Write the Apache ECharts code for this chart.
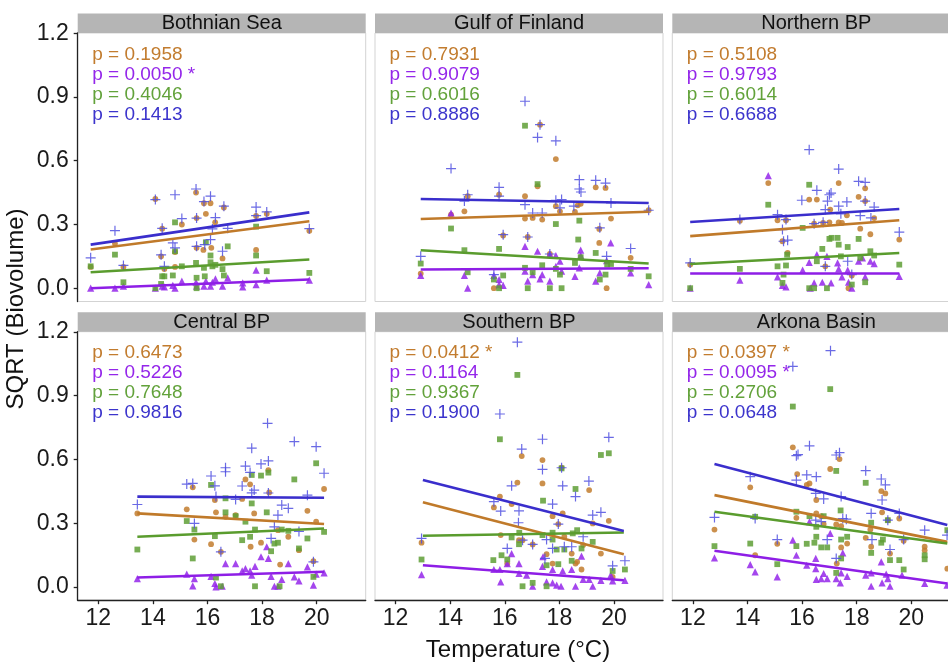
<!DOCTYPE html>
<html>
<head>
<meta charset="utf-8">
<script src="https://cdn.jsdelivr.net/npm/echarts@6/dist/echarts.min.js"></script>
<style>
html,body{margin:0;padding:0;background:#fff;}
#chart{width:948px;height:664px;}
</style>
</head>
<body>
<div id="chart"></div>
<script>
// ---------------- DATA ----------------
const panelNames = ['Bothnian Sea', 'Gulf of Finland', 'Northern BP', 'Central BP', 'Southern BP', 'Arkona Basin'];
const seriesNames = ['Series A', 'Series B', 'Series C', 'Series D'];
const xTicks = [12, 14, 16, 18, 20];
const yTicks = [0, 0.3, 0.6, 0.9, 1.2];

const pValues = [
  ['p = 0.1958', 'p = 0.0050 *', 'p = 0.4046', 'p = 0.1413'],
  ['p = 0.7931', 'p = 0.9079', 'p = 0.6016', 'p = 0.8886'],
  ['p = 0.5108', 'p = 0.9793', 'p = 0.6014', 'p = 0.6688'],
  ['p = 0.6473', 'p = 0.5226', 'p = 0.7648', 'p = 0.9816'],
  ['p = 0.0412 *', 'p = 0.1164', 'p = 0.9367', 'p = 0.1900'],
  ['p = 0.0397 *', 'p = 0.0095 *', 'p = 0.2706', 'p = 0.0648']
];

// Bothnian Sea
const bothnianOrange = [[11.72,0.10],[12.61,0.21],[12.92,0.10],[14.09,0.42],[14.34,0.28],[14.30,0.15],[14.42,0.09],[14.81,0.17],[14.81,0.10],[15.06,0.30],[15.58,0.45],[15.60,0.33],[15.60,0.19],[15.94,0.35],[16.11,0.40],[15.85,0.18],[16.14,0.19],[15.87,0.40],[16.28,0.31],[16.60,0.38],[16.55,0.14],[17.78,0.18],[17.78,0.34],[18.17,0.35],[19.73,0.27]];
const bothnianPurple = [[11.72,0.0],[12.61,0.0],[12.92,0.01],[14.09,0.0],[14.34,0.01],[14.42,0.006],[14.73,0.013],[14.81,0.0],[15.06,0.033],[15.58,0.028],[15.60,0.01],[15.87,0.01],[15.94,0.033],[16.11,0.01],[16.18,0.028],[16.29,0.044],[16.55,0.01],[16.74,0.049],[17.29,0.006],[17.29,0.025],[17.78,0.085],[17.78,0.017],[18.17,0.038],[19.73,0.038]];
const bothnianGreen = [[11.72,0.103],[12.61,0.158],[12.92,0.028],[14.09,0.0],[14.34,0.056],[14.30,0.02],[14.42,0.056],[14.81,0.31],[14.73,0.06],[14.81,0.174],[15.06,0.103],[15.58,0.119],[15.60,0.049],[15.60,0.0],[15.87,0.096],[15.90,0.056],[15.94,0.216],[16.11,0.154],[16.11,0.122],[16.18,0.103],[16.29,0.11],[16.55,0.09],[16.60,0.06],[16.74,0.197],[17.78,0.29],[17.78,0.154],[18.17,0.08],[19.73,0.072]];
const bothnianBlue = [[11.72,0.143],[12.61,0.271],[12.92,0.107],[14.09,0.417],[14.34,0.282],[14.30,0.157],[14.42,0.103],[14.81,0.44],[14.73,0.213],[14.81,0.19],[15.06,0.328],[15.58,0.467],[15.60,0.33],[15.60,0.197],[15.87,0.408],[16.11,0.433],[15.90,0.205],[16.11,0.229],[16.18,0.279],[16.29,0.332],[16.60,0.386],[16.74,0.282],[16.55,0.174],[17.78,0.382],[17.78,0.342],[18.17,0.359],[19.73,0.28]];
// fitted lines: [x range], then orange, purple, green, blue end values
const bothnianFit = [[11.72, 19.73], [0.182, 0.315], [0.0, 0.041], [0.075, 0.135], [0.205, 0.357]];

// Gulf of Finland
const gulfOrange = [[12.92,0.069],[14.03,0.346],[14.52,0.362],[14.64,0.433],[15.60,0.0],[15.79,0.44],[15.94,0.248],[16.74,0.433],[16.74,0.328],[16.84,0.241],[17.02,0.331],[17.20,0.48],[17.29,0.77],[17.37,0.323],[17.65,0.161],[17.87,0.608],[17.87,0.386],[18.02,0.362],[18.57,0.359],[18.67,0.39],[18.78,0.397],[19.33,0.475],[19.69,0.472],[19.46,0.279],[19.46,0.213],[19.73,0.0],[19.89,0.328],[20.61,0.143],[21.27,0.367]];
const gulfPurple = [[12.92,0.06],[14.03,0.354],[14.52,0.06],[14.64,0.0],[15.60,0.06],[15.79,0.041],[15.79,0.017],[15.94,0.013],[16.74,0.197],[16.74,0.08],[16.84,0.033],[17.02,0.064],[17.20,0.174],[17.29,0.044],[17.37,0.064],[17.65,0.033],[17.65,0.161],[17.87,0.154],[17.87,0.103],[18.02,0.127],[18.08,0.08],[18.57,0.056],[18.73,0.096],[18.78,0.179],[18.78,0.154],[19.33,0.033],[19.48,0.072],[19.88,0.213],[19.73,0.13],[20.61,0.072],[21.27,0.017]];
const gulfGreen = [[12.92,0.116],[14.03,0.281],[14.52,0.179],[14.64,0.075],[15.60,0.041],[15.79,0.185],[15.79,0.0],[15.94,0.06],[16.74,0.765],[16.74,0.096],[16.84,0.0],[17.02,0.075],[17.20,0.49],[17.37,0.108],[17.65,0.0],[17.87,0.302],[17.87,0.091],[18.02,0.064],[18.08,0.0],[18.57,0.119],[18.73,0.318],[18.69,0.229],[18.78,0.146],[19.33,0.166],[19.48,0.041],[19.69,0.064],[19.75,0.111],[19.89,0.114],[20.61,0.091],[21.27,0.056]];
const gulfBlue = [[12.92,0.15],[14.03,0.563],[14.52,0.41],[14.64,0.44],[15.60,0.064],[15.79,0.475],[15.79,0.433],[15.94,0.252],[16.74,0.88],[16.74,0.393],[16.84,0.241],[17.02,0.354],[17.20,0.71],[17.29,0.77],[17.37,0.354],[17.65,0.161],[17.87,0.694],[17.87,0.414],[18.08,0.417],[18.02,0.378],[18.53,0.386],[18.73,0.511],[18.73,0.467],[18.79,0.453],[19.33,0.508],[19.69,0.495],[19.48,0.284],[19.73,0.15],[19.89,0.401],[20.61,0.187],[21.27,0.367]];
const gulfFit = [[12.92, 21.27], [0.326, 0.36], [0.088, 0.094], [0.179, 0.116], [0.42, 0.401]];

// Northern BP
const northOrange = [[11.90,0.111],[13.72,0.318],[14.76,0.495],[15.10,0.32],[15.41,0.32],[15.28,0.221],[15.47,0.166],[16.26,0.417],[16.54,0.417],[16.44,0.304],[16.77,0.307],[17.03,0.37],[16.85,0.103],[17.00,0.31],[17.34,0.495],[17.34,0.31],[17.46,0.307],[17.64,0.343],[17.70,0.0],[17.82,0.06],[18.07,0.43],[18.13,0.28],[18.31,0.47],[18.31,0.41],[18.50,0.254],[18.64,0.33],[19.56,0.229]];
const northPurple = [[11.90,0.0],[13.72,0.038],[14.76,0.53],[15.10,0.053],[15.28,0.013],[15.41,0.006],[16.02,0.085],[16.26,0.122],[16.30,0.0],[16.44,0.025],[16.54,0.158],[16.74,0.028],[16.91,0.15],[17.06,0.025],[17.30,0.119],[17.34,0.091],[17.46,0.053],[17.67,0.085],[17.70,0.028],[17.82,0.0],[18.07,0.127],[18.21,0.143],[18.31,0.053],[18.50,0.127],[18.64,0.116],[19.56,0.056]];
const northGreen = [[11.90,0.0],[13.72,0.091],[14.76,0.393],[15.10,0.103],[15.32,0.064],[15.28,0.025],[15.45,0.158],[15.41,0.107],[16.02,0.284],[16.26,0.487],[16.26,0.0],[16.44,0.0],[16.54,0.127],[16.74,0.185],[16.91,0.0],[17.00,0.232],[17.08,0.237],[17.30,0.237],[17.34,0.205],[17.42,0.15],[17.67,0.194],[17.82,0.017],[18.07,0.232],[18.13,0.143],[18.31,0.028],[18.50,0.174],[18.64,0.154],[19.56,0.111]];
const northBlue = [[11.90,0.119],[13.72,0.323],[15.10,0.346],[15.28,0.276],[15.32,0.221],[15.47,0.226],[15.41,0.323],[15.99,0.414],[16.26,0.652],[16.54,0.461],[16.44,0.304],[16.77,0.31],[16.85,0.37],[16.93,0.41],[17.00,0.44],[17.06,0.448],[17.34,0.561],[17.34,0.386],[17.42,0.35],[17.64,0.406],[16.85,0.103],[17.67,0.127],[17.82,0.064],[18.07,0.503],[18.31,0.498],[18.31,0.41],[18.13,0.342],[18.52,0.331],[18.64,0.382],[19.56,0.264]];
const northFit = [[11.90, 19.56], [0.245, 0.32], [0.069, 0.069], [0.114, 0.166], [0.312, 0.373]];

// Central BP
const centralOrange = [[13.43,0.346],[15.24,0.365],[15.46,0.469],[15.52,0.223],[16.13,0.201],[16.27,0.409],[16.31,0.351],[16.49,0.165],[16.66,0.33],[17.03,0.338],[17.27,0.414],[17.39,0.506],[17.56,0.483],[17.58,0.189],[17.71,0.346],[17.96,0.208],[18.23,0.55],[18.26,0.445],[18.58,0.267],[18.66,0.105],[18.96,0.236],[19.35,0.173],[19.66,0.358],[19.88,0.121],[19.98,0.307],[20.27,0.461]];
const centralPurple = [[13.43,0.039],[15.24,0.06],[15.46,0.005],[15.52,0.039],[16.13,0.05],[16.27,0.016],[16.31,0.0],[16.54,0.003],[16.66,0.11],[17.03,0.11],[17.27,0.075],[17.39,0.086],[17.56,0.075],[17.62,0.055],[17.74,0.097],[17.96,0.142],[18.17,0.189],[18.23,0.134],[18.33,0.05],[18.45,0.003],[18.58,0.003],[18.72,0.035],[18.96,0.11],[19.18,0.047],[19.35,0.028],[19.66,0.094],[19.88,0.008],[19.98,0.06],[20.27,0.066]];
const centralGreen = [[13.43,0.176],[15.24,0.31],[15.46,0.134],[15.52,0.27],[16.13,0.48],[16.27,0.239],[16.31,0.044],[16.49,0.003],[16.66,0.417],[16.66,0.351],[17.03,0.333],[17.27,0.22],[17.39,0.307],[17.56,0.236],[17.62,0.527],[17.62,0.393],[17.74,0.27],[17.74,0.003],[17.96,0.524],[18.23,0.538],[18.17,0.351],[18.33,0.168],[18.45,0.204],[18.58,0.208],[18.64,0.003],[18.72,0.27],[18.96,0.264],[19.18,0.506],[19.35,0.181],[19.66,0.228],[19.88,0.047],[19.98,0.582],[20.27,0.259]];
const centralBlue = [[13.43,0.388],[15.24,0.484],[15.46,0.487],[15.52,0.299],[16.13,0.522],[16.27,0.476],[16.31,0.425],[16.66,0.561],[16.66,0.542],[16.49,0.165],[17.03,0.412],[17.27,0.475],[17.39,0.569],[17.56,0.539],[17.62,0.653],[17.62,0.443],[17.71,0.456],[17.96,0.579],[18.23,0.593],[18.20,0.77],[18.23,0.442],[18.33,0.228],[18.45,0.283],[18.58,0.338],[18.72,0.385],[18.96,0.37],[19.18,0.684],[19.35,0.261],[19.66,0.432],[19.88,0.118],[19.98,0.66],[20.27,0.535]];
const centralFit = [[13.43, 20.27], [0.346, 0.296], [0.044, 0.071], [0.236, 0.275], [0.425, 0.42]];

// Southern BP
const southOrange = [[12.95,0.208],[15.82,0.425],[15.60,0.374],[15.85,0.244],[16.09,0.11],[16.25,0.39],[16.46,0.491],[16.52,0.22],[16.62,0.616],[16.65,0.22],[17.02,0.2],[17.38,0.597],[17.38,0.487],[17.53,0.154],[17.75,0.11],[17.75,0.333],[17.96,0.296],[18.08,0.561],[18.12,0.346],[18.18,0.236],[18.45,0.157],[18.59,0.11],[18.65,0.118],[18.81,0.082],[18.87,0.197],[19.09,0.456],[19.22,0.299],[19.52,0.157],[19.81,0.311],[19.95,0.047]];
const southPurple = [[12.95,0.058],[15.60,0.082],[15.85,0.024],[15.82,0.082],[16.09,0.11],[16.25,0.157],[16.52,0.11],[16.52,0.063],[16.80,0.055],[17.02,0.003],[17.38,0.097],[17.40,0.142],[17.53,0.024],[17.75,0.082],[17.75,0.019],[17.90,0.008],[18.06,0.003],[18.12,0.075],[18.45,0.082],[18.59,0.003],[18.81,0.145],[18.87,0.035],[19.09,0.035],[19.22,0.003],[19.52,0.031],[19.88,0.055],[19.95,0.028],[20.40,0.031]];
const southGreen = [[12.95,0.129],[15.58,0.126],[15.82,0.695],[15.88,0.149],[16.09,0.129],[16.25,0.233],[16.52,0.201],[16.53,0.255],[16.46,0.998],[16.65,0.003],[17.02,0.019],[17.38,0.244],[17.40,0.406],[17.53,0.003],[17.53,0.102],[17.75,0.223],[17.75,0.255],[17.96,0.107],[17.90,0.176],[18.08,0.558],[18.18,0.176],[18.45,0.123],[18.49,0.252],[18.59,0.461],[18.65,0.267],[18.81,0.181],[19.22,0.212],[19.52,0.621],[19.81,0.629],[19.95,0.075],[20.40,0.082]];
const southBlue = [[12.95,0.228],[16.46,1.152],[15.82,0.814],[15.60,0.401],[15.85,0.357],[16.09,0.181],[16.25,0.476],[16.52,0.358],[16.50,0.302],[16.62,0.649],[16.65,0.22],[17.02,0.2],[17.38,0.695],[17.38,0.553],[17.53,0.223],[17.47,0.134],[17.75,0.39],[17.75,0.181],[17.96,0.296],[18.08,0.561],[18.12,0.476],[18.18,0.189],[18.45,0.189],[18.59,0.425],[18.87,0.236],[19.08,0.498],[19.22,0.338],[19.52,0.351],[19.81,0.704],[19.95,0.099],[20.40,0.123]];
const southFit = [[13.0, 20.36], [0.398, 0.154], [0.102, 0.031], [0.241, 0.256], [0.503, 0.263]];

// Arkona Basin
const arkonaOrange = [[12.79,0.27],[14.10,0.469],[14.28,0.149],[15.09,0.203],[15.66,0.657],[15.79,0.325],[15.82,0.531],[16.17,0.48],[16.27,0.487],[16.52,0.409],[16.52,0.346],[16.70,0.333],[16.79,0.296],[17.03,0.555],[17.25,0.294],[17.37,0.602],[17.27,0.11],[17.43,0.286],[17.43,0.186],[17.65,0.204],[18.33,0.231],[18.53,0.189],[18.50,0.27],[18.90,0.451],[19.05,0.44],[18.93,0.351],[19.14,0.314],[19.22,0.157],[19.56,0.322],[19.72,0.217],[20.49,0.189],[20.49,0.172],[21.32,0.086]];
const arkonaPurple = [[12.79,0.137],[14.10,0.105],[14.28,0.071],[15.09,0.047],[15.66,0.22],[15.79,0.149],[16.17,0.102],[16.27,0.307],[16.50,0.134],[16.50,0.086],[16.52,0.035],[16.70,0.039],[16.79,0.063],[16.92,0.039],[17.03,0.252],[17.25,0.039],[17.40,0.019],[17.43,0.066],[17.49,0.16],[17.65,0.05],[18.33,0.055],[18.53,0.003],[18.53,0.066],[18.90,0.118],[18.93,0.019],[19.08,0.06],[19.22,0.003],[19.14,0.039],[19.66,0.055],[20.49,0.016],[21.31,0.008]];
const arkonaGreen = [[12.79,0.192],[14.10,0.204],[14.28,0.33],[15.09,0.107],[15.66,0.849],[15.79,0.354],[15.79,0.192],[16.17,0.203],[16.27,0.333],[16.45,0.208],[16.52,0.283],[16.52,0.236],[16.70,0.186],[16.79,0.333],[16.92,0.186],[17.03,0.931],[17.25,0.546],[17.25,0.066],[17.41,0.36],[17.43,0.223],[17.43,0.134],[17.65,0.236],[18.33,0.49],[18.53,0.302],[18.53,0.16],[18.90,0.208],[18.96,0.223],[19.14,0.314],[19.22,0.126],[19.56,0.126],[19.72,0.082],[20.49,0.149],[20.49,0.13],[21.32,0.267]];
const arkonaBlue = [[12.79,0.327],[14.10,0.519],[14.28,0.322],[15.09,0.223],[15.66,1.038],[15.79,0.618],[15.79,0.503],[15.85,0.623],[16.17,0.527],[16.27,0.664],[16.52,0.519],[16.50,0.44],[16.50,0.314],[16.79,0.414],[16.70,0.307],[16.92,0.223],[17.04,1.112],[17.25,0.621],[17.37,0.632],[17.43,0.425],[17.49,0.322],[17.62,0.319],[17.25,0.134],[18.33,0.547],[18.53,0.346],[18.56,0.223],[18.90,0.508],[19.05,0.48],[18.93,0.409],[19.14,0.314],[19.22,0.176],[19.56,0.346],[19.72,0.223],[20.49,0.267],[21.31,0.244]];
const arkonaFit = [[12.79, 21.32], [0.432, 0.212], [0.17, 0.016], [0.354, 0.204], [0.579, 0.291]];

const panelPoints = [
  [bothnianOrange, bothnianPurple, bothnianGreen, bothnianBlue],
  [gulfOrange, gulfPurple, gulfGreen, gulfBlue],
  [northOrange, northPurple, northGreen, northBlue],
  [centralOrange, centralPurple, centralGreen, centralBlue],
  [southOrange, southPurple, southGreen, southBlue],
  [arkonaOrange, arkonaPurple, arkonaGreen, arkonaBlue]
];
const panelFits = [bothnianFit, gulfFit, northFit, centralFit, southFit, arkonaFit];

// ---------------- STYLE / LAYOUT ----------------
const FONT = '"Liberation Sans", Arial, Helvetica, sans-serif';
const pointColors = ['#c27c2e', '#9426ea', '#5f9f36', '#5050e0'];
const lineColors = ['#c07a2a', '#8e1ee6', '#5a9c2e', '#3a2ecc'];
const textColors = ['#c27c2e', '#9426ea', '#62a23a', '#3c34cc'];
const PLUS = 'path://M4.4,0h1.2v4.4h4.4v1.2h-4.4v4.4h-1.2v-4.4h-4.4v-1.2h4.4z';
const symbols = ['circle', 'triangle', 'rect', PLUS];
const symbolSizes = [5.8, 7.2, 5.8, 10];

const colLeft = [77.7, 375, 672.3];
const rowTop = [33, 331.7];
const panelW = 288, panelH = 268.5, stripH = 19.5;
const X_MIN = 11.245, X_MAX = 21.795, Y_MIN = -0.0626, Y_MAX = 1.2014;

const grids = [], xAxes = [], yAxes = [], series = [], graphics = [];

for (let i = 0; i < 6; i++) {
  const r = Math.floor(i / 3), c = i % 3;
  const left = colLeft[c], top = rowTop[r];
  grids.push({left: left, top: top, width: panelW, height: panelH, show: true,
    borderColor: '#d3d3d3', borderWidth: 1, backgroundColor: '#fff',
    containLabel: false, outerBoundsMode: 'none'});
  const showX = r === 1, showY = c === 0;
  xAxes.push({type: 'value', gridIndex: i, min: X_MIN, max: X_MAX,
    splitLine: {show: false},
    axisLine: {show: showX, onZero: false, lineStyle: {color: '#222', width: 1.3}},
    axisTick: {show: showX, length: 4, customValues: xTicks, lineStyle: {color: '#222', width: 1.3}},
    axisLabel: {show: showX, customValues: xTicks, margin: 7, fontSize: 23, fontFamily: FONT, color: '#1a1a1a',
      formatter: v => String(Math.round(v))}
  });
  yAxes.push({type: 'value', gridIndex: i, min: Y_MIN, max: Y_MAX,
    splitLine: {show: false},
    axisLine: {show: showY, onZero: false, lineStyle: {color: '#222', width: 1.3}},
    axisTick: {show: showY, length: 4, customValues: yTicks, lineStyle: {color: '#222', width: 1.3}},
    axisLabel: {show: showY, customValues: yTicks, margin: 9, fontSize: 23, fontFamily: FONT, color: '#1a1a1a',
      formatter: v => v.toFixed(1)}
  });
  // points
  for (let s = 0; s < 4; s++) {
    series.push({type: 'scatter', name: seriesNames[s], xAxisIndex: i, yAxisIndex: i,
      data: panelPoints[i][s], symbol: symbols[s], symbolSize: symbolSizes[s],
      itemStyle: {color: pointColors[s], opacity: 0.85}, z: 2 + s, silent: true, animation: false});
  }
  // fitted lines
  const fit = panelFits[i];
  for (let s = 0; s < 4; s++) {
    series.push({type: 'line', name: seriesNames[s] + ' fit', xAxisIndex: i, yAxisIndex: i,
      data: [[fit[0][0], fit[s + 1][0]], [fit[0][1], fit[s + 1][1]]],
      showSymbol: false, symbol: 'none',
      lineStyle: {color: lineColors[s], width: 2.6}, z: 10, silent: true, animation: false});
  }
  // strip
  graphics.push({type: 'rect', shape: {x: left, y: top - stripH, width: panelW, height: stripH},
    style: {fill: '#b5b5b5'}, silent: true});
  graphics.push({type: 'text', x: left + panelW / 2, y: top - stripH / 2 + 0.5,
    style: {text: panelNames[i], font: '20px ' + FONT, fill: '#111', textAlign: 'center', textVerticalAlign: 'middle',
      align: 'center', verticalAlign: 'middle'}, silent: true});
  // p-values
  for (let s = 0; s < 4; s++) {
    graphics.push({type: 'text', x: left + 14.5, y: top + 21.5 + s * 20, z: 20,
      style: {text: pValues[i][s], font: '19px ' + FONT, fill: textColors[s], textVerticalAlign: 'middle',
        verticalAlign: 'middle', textAlign: 'left', align: 'left'}, silent: true});
  }
}

graphics.push({type: 'text', x: 518, y: 650,
  style: {text: 'Temperature (°C)', font: '24px ' + FONT, fill: '#111', textAlign: 'center', textVerticalAlign: 'middle',
    align: 'center', verticalAlign: 'middle'}, silent: true});
graphics.push({type: 'text', x: 16, y: 309, rotation: Math.PI / 2,
  style: {text: 'SQRT (Biovolume)', font: '24px ' + FONT, fill: '#111', textAlign: 'center', textVerticalAlign: 'middle',
    align: 'center', verticalAlign: 'middle'}, silent: true});

const chart = echarts.init(document.getElementById('chart'), null, {renderer: 'canvas'});
chart.setOption({
  animation: false,
  backgroundColor: '#fff',
  grid: grids,
  xAxis: xAxes,
  yAxis: yAxes,
  series: series,
  graphic: {elements: graphics}
});
</script>
</body>
</html>
